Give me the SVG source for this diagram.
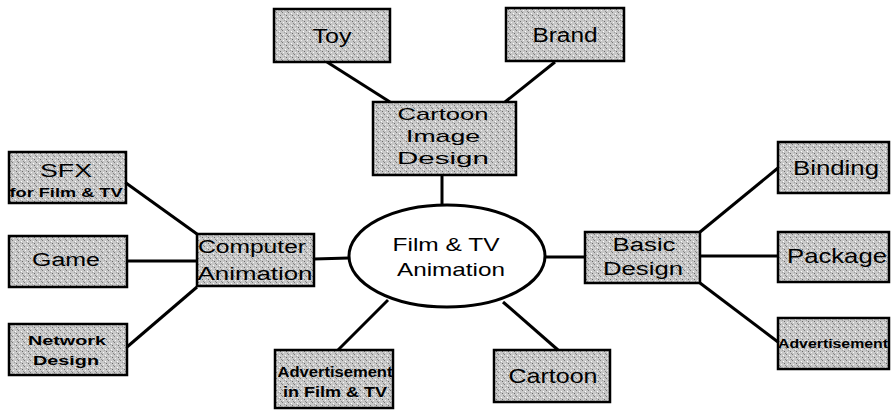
<svg xmlns="http://www.w3.org/2000/svg" width="893" height="413" viewBox="0 0 893 413">
<defs>
<pattern id="stip" width="6" height="6" patternUnits="userSpaceOnUse">
<rect width="6" height="6" fill="#c8c8c8"/>
<rect x="0" y="0" width="1" height="1" fill="#7a7a7a"/>
<rect x="3" y="1" width="1" height="1" fill="#ffffff"/>
<rect x="4" y="3" width="1" height="1" fill="#6a6a6a"/>
<rect x="1" y="4" width="1" height="1" fill="#f4f4f4"/>
<rect x="5" y="5" width="1" height="1" fill="#8a8a8a"/>
<rect x="2" y="2" width="1" height="1" fill="#a0a0a0"/>
</pattern>
</defs>
<style>
.box{fill:url(#stip);stroke:#000;stroke-width:2.5}
.t{font-family:"Liberation Sans",Arial,sans-serif;fill:#000;text-anchor:middle}
.b{font-weight:bold}
.c{stroke:#000;stroke-width:3;fill:none}
</style>
<rect width="893" height="413" fill="#fff"/>
<g id="connectors">
<line class="c" x1="327" y1="62" x2="390" y2="102"/>
<line class="c" x1="555" y1="62" x2="505" y2="102"/>
<line class="c" x1="442" y1="175" x2="442" y2="205"/>
<line class="c" x1="126" y1="183" x2="197" y2="234"/>
<line class="c" x1="127" y1="261" x2="197" y2="261"/>
<line class="c" x1="127" y1="347" x2="197" y2="287"/>
<line class="c" x1="314" y1="259" x2="349" y2="258"/>
<line class="c" x1="545" y1="257" x2="585" y2="257"/>
<line class="c" x1="700" y1="232" x2="778" y2="168"/>
<line class="c" x1="700" y1="256" x2="778" y2="256"/>
<line class="c" x1="700" y1="283" x2="778" y2="342"/>
<line class="c" x1="388" y1="300" x2="338" y2="350"/>
<line class="c" x1="503" y1="302" x2="558" y2="350"/>
</g>
<g id="center">
<ellipse cx="447" cy="256" rx="98" ry="51" fill="#fff" stroke="#000" stroke-width="3"/>
<text class="t" x="446" y="251" font-size="19" textLength="107" lengthAdjust="spacingAndGlyphs">Film &amp; TV</text>
<text class="t" x="451" y="276" font-size="19" textLength="108" lengthAdjust="spacingAndGlyphs">Animation</text>
</g>
<g id="toy">
<rect class="box" x="274" y="9" width="116" height="53"/>
<text class="t" x="332" y="43" font-size="20" textLength="39" lengthAdjust="spacingAndGlyphs">Toy</text>
</g>
<g id="brand">
<rect class="box" x="506" y="8" width="118" height="53"/>
<text class="t" x="565" y="42" font-size="20" textLength="65" lengthAdjust="spacingAndGlyphs">Brand</text>
</g>
<g id="cartoon-image">
<rect class="box" x="373" y="102" width="143" height="73"/>
<text class="t" x="443" y="120" font-size="17" textLength="91" lengthAdjust="spacingAndGlyphs">Cartoon</text>
<text class="t" x="443" y="142" font-size="17" textLength="74" lengthAdjust="spacingAndGlyphs">Image</text>
<text class="t" x="443" y="164" font-size="17" textLength="92" lengthAdjust="spacingAndGlyphs">Design</text>
</g>
<g id="sfx">
<rect class="box" x="9" y="152" width="117" height="51"/>
<text class="t" x="66" y="177" font-size="19" textLength="52" lengthAdjust="spacingAndGlyphs">SFX</text>
<text class="t b" x="66" y="197" font-size="12" textLength="113" lengthAdjust="spacingAndGlyphs">for Film &amp; TV</text>
</g>
<g id="game">
<rect class="box" x="9" y="236" width="118" height="51"/>
<text class="t" x="66" y="266" font-size="18" textLength="68" lengthAdjust="spacingAndGlyphs">Game</text>
</g>
<g id="network">
<rect class="box" x="9" y="324" width="118" height="51"/>
<text class="t b" x="67" y="345" font-size="13" textLength="78" lengthAdjust="spacingAndGlyphs">Network</text>
<text class="t b" x="66" y="365" font-size="13" textLength="66" lengthAdjust="spacingAndGlyphs">Design</text>
</g>
<g id="computer">
<rect class="box" x="197" y="234" width="117" height="52"/>
<text class="t" x="252" y="253" font-size="18" textLength="108" lengthAdjust="spacingAndGlyphs">Computer</text>
<text class="t" x="255" y="280" font-size="18" textLength="115" lengthAdjust="spacingAndGlyphs">Animation</text>
</g>
<g id="adv-film">
<rect class="box" x="275" y="350" width="118" height="58"/>
<text class="t b" x="335" y="377" font-size="14" textLength="115" lengthAdjust="spacingAndGlyphs">Advertisement</text>
<text class="t b" x="335" y="397" font-size="14" textLength="104" lengthAdjust="spacingAndGlyphs">in Film &amp; TV</text>
</g>
<g id="cartoon">
<rect class="box" x="494" y="350" width="116" height="52"/>
<text class="t" x="553" y="383" font-size="21" textLength="89" lengthAdjust="spacingAndGlyphs">Cartoon</text>
</g>
<g id="basic">
<rect class="box" x="585" y="232" width="115" height="51"/>
<text class="t" x="644" y="251" font-size="18" textLength="63" lengthAdjust="spacingAndGlyphs">Basic</text>
<text class="t" x="643" y="275" font-size="18" textLength="80" lengthAdjust="spacingAndGlyphs">Design</text>
</g>
<g id="binding">
<rect class="box" x="778" y="142" width="111" height="51"/>
<text class="t" x="836" y="175" font-size="20" textLength="86" lengthAdjust="spacingAndGlyphs">Binding</text>
</g>
<g id="package">
<rect class="box" x="778" y="232" width="111" height="50"/>
<text class="t" x="837" y="263" font-size="21" textLength="100" lengthAdjust="spacingAndGlyphs">Package</text>
</g>
<g id="advertisement">
<rect class="box" x="778" y="318" width="111" height="51"/>
<text class="t b" x="833" y="348" font-size="12" textLength="110" lengthAdjust="spacingAndGlyphs">Advertisement</text>
</g>
</svg>
